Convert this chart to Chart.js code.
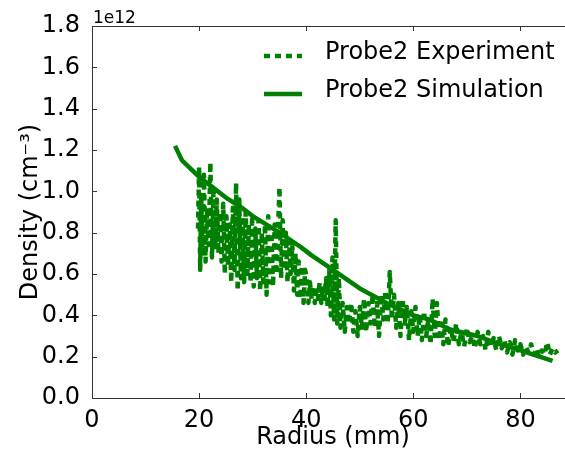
<!DOCTYPE html>
<html>
<head>
<meta charset="utf-8">
<script src="https://cdn.jsdelivr.net/npm/chart.js@4.4.0/dist/chart.umd.min.js"></script>
<style>
  html, body { margin: 0; padding: 0; background: #fff; overflow: hidden; }
  #wrap { width: 574px; height: 452px; position: relative; }
</style>
</head>
<body>
<div id="wrap"><canvas id="density-chart"></canvas></div>
<script>
// Probe2 experiment (radius mm, density in 1e12 cm^-3)
const expX = [19.8, 20.0, 20.2, 20.4, 20.6, 20.9, 21.2, 21.5, 21.8, 22.1, 22.4, 22.7, 23.0, 23.3, 23.6, 23.9,
  24.2, 24.5, 24.8, 25.1, 25.4, 25.7, 26.0, 26.3, 26.6, 26.9, 27.2, 27.5, 27.8, 28.1, 28.4, 28.7, 29.0, 29.3,
  29.6, 29.9, 30.2, 30.5, 30.8, 31.1, 31.4, 31.7, 32.0, 32.3, 32.6, 32.9, 33.2, 33.5, 33.8, 34.1, 34.4, 34.7,
  35.0, 35.3, 35.6, 35.9, 36.2, 36.5, 36.8, 37.1, 37.4, 37.7, 38.0, 38.3, 38.6, 38.9, 39.2, 39.5, 39.8,
  40.1, 40.4, 40.7, 41.0, 41.3, 41.6, 41.9, 42.2, 42.5, 42.8, 43.1, 43.4, 43.7, 44.0, 44.3, 44.6, 44.9,
  45.2, 45.5, 45.8, 46.1, 46.4, 46.8, 47.2, 47.6, 48.0, 48.4, 48.8, 49.2, 49.6, 50.0, 50.4, 50.8, 51.2,
  51.6, 52.0, 52.4, 52.8, 53.2, 53.6, 54.0, 54.4, 54.8, 55.2, 55.6, 56.0, 56.4, 56.8, 57.2, 57.6, 58.0,
  58.4, 58.8, 59.2, 59.6, 60.0, 60.4, 60.8, 61.2, 61.6, 62.0, 62.4, 62.8, 63.2, 63.6, 64.0, 64.4, 64.8,
  65.2, 65.6, 66.0, 66.5, 67.0, 67.5, 68.0, 68.5, 69.0, 69.5, 70.0, 70.5, 71.0, 71.5, 72.0, 72.5, 73.0,
  73.5, 74.0, 74.5, 75.0, 75.5, 76.0, 76.5, 77.0, 77.5, 78.0, 78.5, 79.0, 79.5, 80.0, 80.5, 81.0, 81.5,
  82.0, 82.5, 83.0, 83.5, 84.0, 84.5, 85.0, 85.5, 86.0, 86.5, 87.0];
const expY = [0.82, 1.12, 0.62, 0.98, 0.70, 1.08, 0.66, 0.92, 0.74, 1.14, 0.68, 1.02, 0.72, 0.96, 0.70, 0.90,
  0.66, 0.94, 0.60, 0.88, 0.64, 0.84, 0.56, 0.92, 0.62, 1.04, 0.52, 0.96, 0.58, 0.86, 0.56, 0.90, 0.60, 0.84,
  0.56, 0.88, 0.54, 0.82, 0.58, 0.86, 0.52, 0.80, 0.56, 0.84, 0.50, 0.88, 0.56, 0.80, 0.54, 0.84, 0.60, 0.78,
  1.02, 0.58, 0.86, 0.62, 0.80, 0.56, 0.76, 0.60, 0.74, 0.52, 0.70, 0.50, 0.66, 0.48, 0.64, 0.46, 0.62,
  0.58, 0.46, 0.56, 0.48, 0.54, 0.46, 0.52, 0.48, 0.56, 0.46, 0.54, 0.48, 0.58, 0.44, 0.62, 0.40, 0.68,
  0.38, 0.86, 0.36, 0.58, 0.34, 0.46, 0.32, 0.44, 0.36, 0.46, 0.32, 0.42, 0.30, 0.44, 0.34, 0.48, 0.32,
  0.46, 0.36, 0.50, 0.34, 0.46, 0.30, 0.50, 0.38, 0.52, 0.36, 0.61, 0.38, 0.50, 0.34, 0.46, 0.30, 0.48,
  0.36, 0.44, 0.28, 0.42, 0.32, 0.44, 0.30, 0.40, 0.28, 0.42, 0.30, 0.38, 0.26, 0.48, 0.30, 0.46, 0.28,
  0.36, 0.26, 0.38, 0.25, 0.34, 0.27, 0.36, 0.26, 0.32, 0.25, 0.34, 0.27, 0.30, 0.24, 0.32, 0.26, 0.30,
  0.23, 0.32, 0.25, 0.29, 0.23, 0.30, 0.24, 0.28, 0.22, 0.27, 0.21, 0.28, 0.23, 0.26, 0.21, 0.25, 0.22,
  0.26, 0.21, 0.24, 0.20, 0.23, 0.21, 0.27, 0.21, 0.24, 0.22, 0.23];

// Probe2 simulation
const simX = [15.5, 16.8, 20, 25, 28, 30, 35, 39, 41, 45, 50, 55, 60, 63, 67, 72, 75, 80, 86];
const simY = [1.22, 1.15, 1.07, 0.97, 0.92, 0.88, 0.80, 0.73, 0.69, 0.62, 0.53, 0.46, 0.40, 0.38, 0.33, 0.30, 0.27, 0.23, 0.18];

const xTicks = [0, 20, 40, 60, 80];
const yTicks = [0.0, 0.2, 0.4, 0.6, 0.8, 1.0, 1.2, 1.4, 1.6, 1.8];

const green = '#008000';
const font = 'DejaVu Sans';

const toPoints = (xs, ys) => xs.map((x, i) => ({ x: x, y: ys[i] }));

// matplotlib-like frame, inward ticks, legend and offset text
const mplLook = {
  id: 'mplLook',
  afterDatasetsDraw(chart) {
    const { ctx, chartArea: a, scales } = chart;
    ctx.save();
    ctx.strokeStyle = '#333';
    ctx.lineWidth = 1;
    ctx.beginPath();
    xTicks.forEach(v => {
      const px = Math.round(scales.x.getPixelForValue(v)) + 0.5;
      ctx.moveTo(px, a.bottom); ctx.lineTo(px, a.bottom - 5);
      ctx.moveTo(px, a.top); ctx.lineTo(px, a.top + 5);
    });
    yTicks.forEach(v => {
      const py = Math.round(scales.y.getPixelForValue(v)) + 0.5;
      ctx.moveTo(a.left, py); ctx.lineTo(a.left + 5, py);
      ctx.moveTo(a.right, py); ctx.lineTo(a.right - 5, py);
    });
    ctx.stroke();
    ctx.strokeRect(Math.round(a.left) + 0.5, Math.round(a.top) + 0.5,
      Math.round(a.right - a.left), Math.round(a.bottom - a.top));

    // offset text
    ctx.fillStyle = '#000';
    ctx.font = '17px "' + font + '"';
    ctx.textBaseline = 'bottom';
    ctx.textAlign = 'left';
    ctx.fillText('1e12', a.left + 1, a.top + 1);

    // legend
    const rows = [
      { label: 'Probe2 Experiment', dash: [6, 5], y: 53 },
      { label: 'Probe2 Simulation', dash: [], y: 91 }
    ];
    rows.forEach(r => {
      ctx.strokeStyle = green;
      ctx.lineWidth = 4.5;
      ctx.setLineDash(r.dash);
      ctx.beginPath();
      ctx.moveTo(264, r.y + 3); ctx.lineTo(302, r.y + 3);
      ctx.stroke();
      ctx.setLineDash([]);
      ctx.fillStyle = '#000';
      ctx.font = '24px "' + font + '"';
      ctx.textBaseline = 'middle';
      ctx.fillText(r.label, 325, r.y);
    });
    ctx.restore();
  }
};

new Chart(document.getElementById('density-chart'), {
  type: 'scatter',
  data: {
    datasets: [{
      label: 'Probe2 Experiment',
      data: toPoints(expX, expY),
      showLine: true,
      borderColor: green,
      borderWidth: 4.5,
      borderDash: [6, 5],
      borderCapStyle: 'butt',
      borderJoinStyle: 'round',
      pointRadius: 0,
      fill: false
    }, {
      label: 'Probe2 Simulation',
      data: toPoints(simX, simY),
      showLine: true,
      borderColor: green,
      borderWidth: 4.5,
      borderJoinStyle: 'round',
      pointRadius: 0,
      fill: false
    }]
  },
  options: {
    responsive: true,
    maintainAspectRatio: false,
    animation: false,
    layout: { padding: { top: 26, right: 0, left: 0, bottom: 0 } },
    plugins: {
      legend: { display: false },
      tooltip: { enabled: false }
    },
    scales: {
      x: {
        type: 'linear',
        min: 0,
        max: 90,
        afterBuildTicks: s => { s.ticks = xTicks.map(v => ({ value: v })); },
        afterFit: s => { s.height = 54; },
        grid: { display: false },
        border: { display: false },
        ticks: { color: '#000', font: { family: font, size: 24 }, padding: 0, maxRotation: 0, autoSkip: false },
        title: { display: true, text: 'Radius (mm)', color: '#000', font: { family: font, size: 24 }, padding: 0 }
      },
      y: {
        type: 'linear',
        min: 0,
        max: 1.8,
        afterBuildTicks: s => { s.ticks = yTicks.map(v => ({ value: v })); },
        afterFit: s => { s.width = 92; },
        grid: { display: false },
        border: { display: false },
        ticks: { color: '#000', font: { family: font, size: 24 }, padding: 4, autoSkip: false,
          callback: v => v.toFixed(1) },
        title: { display: true, text: 'Density (cm⁻³)', color: '#000', font: { family: font, size: 24 },
          padding: { top: 16, bottom: 0 } }
      }
    }
  },
  plugins: [mplLook]
});
</script>
</body>
</html>
